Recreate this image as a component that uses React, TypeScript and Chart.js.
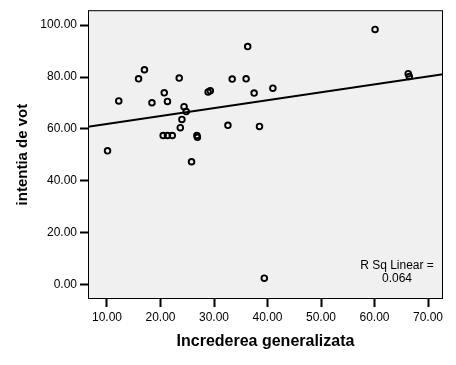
import React, { useEffect, useRef } from "react";
import { Chart, registerables } from "chart.js";

Chart.register(...registerables);

// Data
const xValues = [
  10.1, 12.2, 15.9, 17.0, 18.4, 20.7, 21.3, 20.5, 21.3, 22.2, 23.5, 24.4, 24.8, 24.0, 23.7, 25.8,
  26.8, 26.9, 28.9, 29.3, 32.6, 33.4, 36.0, 36.3, 37.5, 38.5, 39.4, 41.0, 60.1, 66.3, 66.5,
];
const yValues = [
  51.6, 70.8, 79.3, 82.8, 70.1, 73.9, 70.6, 57.5, 57.5, 57.5, 79.6, 68.6, 66.7, 63.7, 60.5, 47.4,
  57.5, 56.8, 74.2, 74.7, 61.4, 79.2, 79.3, 91.7, 73.8, 61.0, 2.6, 75.7, 98.3, 81.3, 80.2,
];
const xTicks = [10, 20, 30, 40, 50, 60, 70];
const yTicks = [0, 20, 40, 60, 80, 100];
const xRange = [6.45, 72.8];
const yRange = [-5.4, 105.7];
const fitIntercept = 58.9;
const fitSlope = 0.304;
const rSqLabel = ["R Sq Linear =", "0.064"];
const xTitle = "Increderea generalizata";
const yTitle = "intentia de vot";

const FONT = "'Liberation Sans', Arial, sans-serif";

const framePlugin = {
  id: "frame",
  beforeDraw(chart: any) {
    const { ctx, chartArea } = chart;
    ctx.save();
    ctx.fillStyle = "#ffffff";
    ctx.fillRect(0, 0, chart.width, chart.height);
    ctx.fillStyle = "#f0f0f0";
    ctx.fillRect(chartArea.left, chartArea.top, chartArea.right - chartArea.left, chartArea.bottom - chartArea.top);
    ctx.restore();
  },
  afterDraw(chart: any) {
    const { ctx, chartArea } = chart;
    ctx.save();
    ctx.strokeStyle = "#000000";
    ctx.lineWidth = 1;
    ctx.strokeRect(
      chartArea.left + 0.5,
      chartArea.top + 0.5,
      chartArea.right - chartArea.left - 1,
      chartArea.bottom - chartArea.top - 1
    );
    ctx.fillStyle = "#000000";
    ctx.font = `12px ${FONT}`;
    ctx.textAlign = "center";
    ctx.textBaseline = "middle";
    const cx = chartArea.right - 46;
    ctx.fillText(rSqLabel[0], cx, chartArea.bottom - 33);
    ctx.fillText(rSqLabel[1], cx, chartArea.bottom - 20);
    ctx.restore();
  },
};

export default function App() {
  const ref = useRef<HTMLCanvasElement | null>(null);

  useEffect(() => {
    if (!ref.current) return;
    const points = xValues.map((x, i) => ({ x, y: yValues[i] }));
    const line = [
      { x: xRange[0], y: fitIntercept + fitSlope * xRange[0] },
      { x: xRange[1], y: fitIntercept + fitSlope * xRange[1] },
    ];
    const chart = new Chart(ref.current, {
      type: "scatter",
      data: {
        datasets: [
          {
            type: "line",
            data: line,
            borderColor: "#000000",
            borderWidth: 2,
            pointRadius: 0,
            fill: false,
          } as any,
          {
            data: points,
            pointStyle: "circle",
            pointRadius: 2.8,
            pointBorderWidth: 1.9,
            pointBackgroundColor: "rgba(0,0,0,0)",
            pointBorderColor: "#000000",
          } as any,
        ],
      },
      options: {
        responsive: false,
        animation: false,
        layout: { padding: { top: 9, right: 13, left: 0, bottom: 0 } },
        plugins: { legend: { display: false }, tooltip: { enabled: false } },
        scales: {
          x: {
            type: "linear",
            min: xRange[0],
            max: xRange[1],
            afterBuildTicks: (s: any) => {
              s.ticks = xTicks.map((v) => ({ value: v }));
            },
            afterFit: (s: any) => {
              s.height = 66;
            },
            grid: {
              drawOnChartArea: false,
              drawTicks: true,
              tickLength: 8,
              tickWidth: 2,
              tickColor: "#000000",
              color: "#000000",
            },
            border: { display: false },
            ticks: {
              color: "#000000",
              padding: 3,
              font: { family: FONT, size: 12 },
              maxRotation: 0,
              callback: (v: any) => Number(v).toFixed(2),
            },
            title: {
              display: true,
              text: xTitle,
              color: "#000000",
              font: { family: FONT, size: 16, weight: "bold" },
              padding: { top: 0, bottom: 14 },
            },
          },
          y: {
            type: "linear",
            min: yRange[0],
            max: yRange[1],
            afterBuildTicks: (s: any) => {
              s.ticks = yTicks.map((v) => ({ value: v }));
            },
            afterFit: (s: any) => {
              s.width = 88;
            },
            grid: {
              drawOnChartArea: false,
              drawTicks: true,
              tickLength: 8,
              tickWidth: 2,
              tickColor: "#000000",
              color: "#000000",
            },
            border: { display: false },
            ticks: {
              color: "#000000",
              padding: 3,
              font: { family: FONT, size: 12 },
              callback: (v: any) => Number(v).toFixed(2),
            },
            title: {
              display: true,
              text: yTitle,
              color: "#000000",
              font: { family: FONT, size: 15, weight: "bold" },
              padding: { top: 14, bottom: 0 },
            },
          },
        },
      },
      plugins: [framePlugin],
    });
    return () => chart.destroy();
  }, []);

  return (
    <div style={{ position: "absolute", left: 0, top: 0, width: 456, height: 365 }}>
      <canvas ref={ref} width={456} height={365} />
    </div>
  );
}
